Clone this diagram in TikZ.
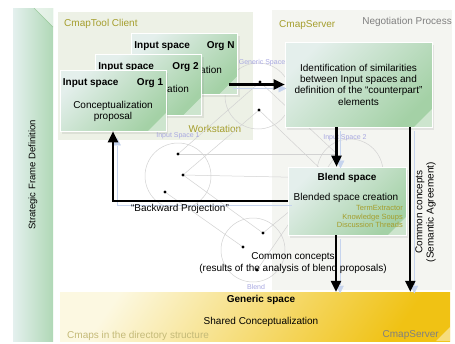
\documentclass[tikz,border=0pt]{standalone}
\usepackage{fontspec}
\setmainfont{Liberation Sans}
\usetikzlibrary{arrows.meta,shadows}
\definecolor{boxlight}{RGB}{228,239,236}
\definecolor{boxdark}{RGB}{164,209,166}
\definecolor{olivetext}{RGB}{165,158,45}
\definecolor{paleolive}{RGB}{196,186,120}
\definecolor{lavender}{RGB}{168,168,225}
\definecolor{shadowblue}{RGB}{198,212,238}
\definecolor{stripleft}{RGB}{228,240,238}
\definecolor{stripright}{RGB}{176,216,182}
\definecolor{bandtop}{RGB}{252,248,225}
\definecolor{bandbottom}{RGB}{240,194,20}
\definecolor{clientbg}{RGB}{237,241,230}
\definecolor{serverbg}{RGB}{244,245,241}
\tikzset{
  greenbox/.style={rectangle, inner sep=0pt, top color=boxlight,
    bottom color=boxdark, shading angle=45, draw=white, line width=0.6pt,
    drop shadow={shadow xshift=2pt, shadow yshift=-3pt, opacity=0.15},
    path picture={\fill[white,opacity=0.45]
      ([xshift=-18pt]path picture bounding box.south east)
      -- (path picture bounding box.south east)
      -- ([yshift=18pt]path picture bounding box.south east) -- cycle;}},
  orgbox/.style={greenbox, minimum width=106pt, minimum height=61pt},
  hdr/.style={font=\fontsize{10}{11.3}\selectfont\bfseries, inner sep=1pt},
  tool/.style={font=\fontsize{7.5}{8.5}\selectfont, text=olivetext, inner sep=1pt},
  spacelbl/.style={font=\fontsize{7}{8}\selectfont, text=lavender, inner sep=0pt},
  panellbl/.style={text=olivetext, inner sep=1pt},
  net/.style={gray!35, line width=0.5pt},
  flow/.style={line width=2.3pt, -{Triangle[length=11pt,width=10pt]},
    preaction={draw=shadowblue, transform canvas={shift={(4pt,-4pt)}}}}
}
\begin{document}
\begin{tikzpicture}[x=1pt,y=-1pt,font=\fontsize{10}{11.3}\selectfont]
\useasboundingbox[fill=white] (0,0) rectangle (455,343);
% panels
\fill[clientbg] (58,12) rectangle (253,140);
\fill[serverbg] (272,10) rectangle (452,290);
\node[panellbl, anchor=west] (clientlbl) at (63,24) {CmapTool Client};
\node[panellbl, anchor=west] (serverlbl) at (278,25) {CmapServer};
\node[text=gray, inner sep=1pt, anchor=east] (negotlbl) at (453,22) {Negotiation Process};
\node[panellbl] (worklbl) at (215,129) {Workstation};
% strategic frame strip
\node[rectangle, minimum width=40pt, minimum height=333pt,
  left color=stripleft, right color=stripright,
  path picture={\fill[white,opacity=0.6]
    ([xshift=-19pt]path picture bounding box.north east)
    -- (path picture bounding box.north east)
    -- ([yshift=-19pt]path picture bounding box.north east) -- cycle;
    \draw[green!30!gray,opacity=0.5] ([xshift=-19pt]path picture bounding box.north east)
    -- ([yshift=-19pt]path picture bounding box.north east);}] (strip) at (33,174.5) {};
\node[rotate=90, font=\fontsize{9.5}{11}\selectfont] (striplbl) at (33,175) {Strategic Frame Definition};
% blending diagram in the background
\draw[net] (258,96) circle (33pt);
\draw[net] (178,176) circle (33pt);
\draw[net] (350,172) circle (33pt);
\draw[net] (253,250) circle (32pt);
\draw[net] (178,154) -- (337,154);
\draw[net] (183,175) -- (330,178);
\draw[net] (183,175) -- (259,110);
\draw[net] (178,154) -- (260,82);
\draw[net] (259,110) -- (330,178);
\draw[net] (260,82) -- (337,154);
\draw[net] (165,192) -- (243,247);
\draw[net] (183,175) -- (263,233);
\draw[net] (330,178) -- (263,233);
\draw[net] (337,154) -- (257,270);
\foreach \p in {(260,82),(259,110),(178,154),(183,175),(165,192),(263,233),(243,247),(257,270)}
  \fill \p circle (1.6pt);
\node[spacelbl] (genlbl) at (262,63) {Generic Space};
\node[spacelbl] (in1lbl) at (178,136) {Input Space 1};
\node[spacelbl] (in2lbl) at (345,138) {Input Space 2};
\node[spacelbl] (blendlbl) at (256,287) {Blend};
% input spaces of the organisations
\node[orgbox] (orgN) at (184.5,63.5) {};
\node[hdr, anchor=west] (orgNin) at ([shift={(2pt,-13pt)}]orgN.north west) {Input space};
\node[hdr, anchor=east] (orgNname) at ([shift={(-2pt,-13pt)}]orgN.north east) {Org N};
\node[inner sep=0pt, anchor=west] (orgNtxt) at (200,70) {ation};
\node[orgbox] (org2) at (148.5,84.5) {};
\node[hdr, anchor=west] (org2in) at ([shift={(2pt,-13pt)}]org2.north west) {Input space};
\node[hdr, anchor=east] (org2name) at ([shift={(-2pt,-13pt)}]org2.north east) {Org 2};
\node[inner sep=0pt, anchor=west] (org2txt) at (167,89) {ation};
\node[orgbox] (org1) at (113,100.5) {};
\node[hdr, anchor=west] (org1in) at ([shift={(2pt,-13pt)}]org1.north west) {Input space};
\node[hdr, anchor=east] (org1name) at ([shift={(-2pt,-13pt)}]org1.north east) {Org 1};
\node[align=center] (org1txt) at ([yshift=-42pt]org1.north) {Conceptualization\\proposal};
% server side
\node[greenbox, minimum width=147pt, minimum height=85pt, align=center] (ident) at (358.5,84.5)
  {Identification of similarities\\between Input spaces and\\definition of the “counterpart”\\elements};
\node[greenbox, minimum width=118pt, minimum height=68pt] (blend) at (347,201) {};
\node[hdr] (blendhdr) at (347,178) {Blend space};
\node[inner sep=1pt] (blendtxt) at (346,198) {Blended space creation};
\node[tool, anchor=east, align=right] (tools) at (404,216.5) {TermExtractor\\Knowledge Soups\\Discussion Threads};
% generic space
\node[rectangle, minimum width=390pt, minimum height=49pt, top color=bandtop,
  bottom color=bandbottom, shading angle=55,
  path picture={\fill[white,opacity=0.45]
    ([xshift=-14pt]path picture bounding box.south east)
    -- (path picture bounding box.south east)
    -- ([yshift=14pt]path picture bounding box.south east) -- cycle;}] (band) at (255,316.5) {};
\node[hdr] (bandhdr) at (261,300) {Generic space};
\node (bandtxt) at (261,322) {Shared Conceptualization};
\node[text=paleolive, anchor=west, inner sep=1pt] (dirlbl) at (66,335.5) {Cmaps in the directory structure};
\node[text=gray, anchor=east, inner sep=1pt] (bandsrv) at (440,335.5) {CmapServer};
% flows
\draw[flow] ([xshift=-9pt]orgN.east |- ident.west) -- (ident.west);
\draw[flow] ([xshift=-22pt]ident.south) -- ([xshift=-22pt]ident.south |- blend.north);
\draw[flow] ([xshift=-22pt]ident.south east) -- ([xshift=-22pt]ident.south east |- band.north);
\draw[flow] ([xshift=-11pt]blend.south) -- ([xshift=-11pt]blend.south |- band.north);
\draw[flow] (blend.west) -| (org1.south);
\node (backlbl) at (180,209) {“Backward Projection”};
\node[align=center] (commonlbl) at (293,263) {Common concepts\\(results of the analysis of blend proposals)};
\node[rotate=90, align=center] (semlbl) at (425.5,212) {Common concepts\\(Semantic Agreement)};
\end{tikzpicture}
\end{document}
